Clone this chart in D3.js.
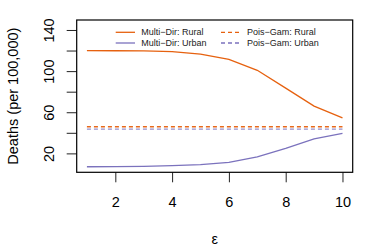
<!DOCTYPE html>
<html><head><meta charset="utf-8">
<script src="https://cdn.jsdelivr.net/npm/d3@7"></script>
<style>body{margin:0;background:#fff}svg{display:block;font-family:"Liberation Sans",Arial,sans-serif}</style>
</head><body><svg id="c" width="374" height="249"></svg>
<script>
const epsilon = [1,2,3,4,5,6,7,8,9,10];
const multiDirRural = [119.9,119.8,119.6,119.0,116.6,111.5,100.8,83.5,66.0,54.6];
const multiDirUrban = [7.0,7.1,7.4,8.0,9.0,11.2,16.7,24.9,34.2,39.5];
const poisGamRural = [45.9,45.9,45.9,45.9,45.9,45.9,45.9,45.9,45.9,45.9];
const poisGamUrban = [43.6,43.6,43.6,43.6,43.6,43.6,43.6,43.6,43.6,43.6];
const xTicks = [2,4,6,8,10];
const yTicks = [20,40,60,80,100,120,140];
const yTickLabels = [20,60,100,140];
const legendLabels = ["Multi\u2212Dir: Rural","Multi\u2212Dir: Urban","Pois\u2212Gam: Rural","Pois\u2212Gam: Urban"];

const colRural = "#E6610F", colUrban = "#7B72BD";
const L=76.7, R=352.7, T=20, B=172.3;
const svg = d3.select("#c");
const x = d3.scaleLinear().domain([0.64,10.36]).range([L,R]);
const y = d3.scaleLinear().domain([1.6,149.7]).range([B,T]);

// axes
const xa = svg.append("g").attr("transform",`translate(0,${B})`)
  .call(d3.axisBottom(x).tickValues(xTicks).tickSize(10).tickPadding(14).tickFormat(d3.format("d")));
xa.select(".domain").remove();
xa.selectAll("text").attr("font-size",14.5).attr("font-family","Liberation Sans, Arial, sans-serif").attr("fill","#000");
xa.selectAll("line").attr("stroke","#222").attr("stroke-width",1);

const ya = svg.append("g").attr("transform",`translate(${L},0)`)
  .call(d3.axisLeft(y).tickValues(yTicks).tickSize(10).tickFormat(d => yTickLabels.includes(d) ? d : ""));
ya.select(".domain").remove();
ya.selectAll("line").attr("stroke","#222").attr("stroke-width",1);
ya.selectAll("text").attr("font-size",14.5).attr("font-family","Liberation Sans, Arial, sans-serif").attr("fill","#000")
  .attr("text-anchor","middle").attr("dy",null).attr("x",null)
  .attr("transform","translate(-27.4,0) rotate(-90)").attr("dominant-baseline","central");

// lines
const line = d3.line().x((d,i)=>x(epsilon[i])).y(d=>y(d));
const series = [
  {v:poisGamRural,c:colRural,dash:"4,3",op:0.95},
  {v:poisGamUrban,c:colUrban,dash:"4,3",op:0.8},
  {v:multiDirRural,c:colRural,dash:null,op:1},
  {v:multiDirUrban,c:colUrban,dash:null,op:1}
];
series.forEach(s=>{
  svg.append("path").attr("d",line(s.v)).attr("fill","none").attr("stroke",s.c)
    .attr("stroke-width",1.3).attr("stroke-dasharray",s.dash).attr("opacity",s.op);
});

// box
svg.append("rect").attr("x",L).attr("y",T).attr("width",R-L).attr("height",B-T)
  .attr("fill","none").attr("stroke","#000").attr("stroke-width",1.2);

// legend
const leg = [
  {t:legendLabels[0],c:colRural,dash:null,x1:115.7,x2:135,tx:141.3,y:32.3},
  {t:legendLabels[1],c:colUrban,dash:null,x1:115.7,x2:135,tx:141.3,y:43},
  {t:legendLabels[2],c:colRural,dash:"4,3",x1:221,x2:240,tx:247,y:32.3},
  {t:legendLabels[3],c:colUrban,dash:"4,3",x1:221,x2:240,tx:247,y:43}
];
leg.forEach(l=>{
  svg.append("line").attr("x1",l.x1).attr("x2",l.x2).attr("y1",l.y).attr("y2",l.y)
    .attr("stroke",l.c).attr("stroke-width",1.3).attr("stroke-dasharray",l.dash);
  svg.append("text").attr("x",l.tx).attr("y",l.y).attr("dominant-baseline","central")
    .attr("font-size",9).attr("fill","#222").text(l.t);
});

// axis titles
svg.append("text").attr("x",(L+R)/2).attr("y",239).attr("text-anchor","middle")
  .attr("dominant-baseline","central").attr("font-size",14.5).text("\u03b5");
svg.append("text").attr("transform",`translate(13.4,${(T+B)/2}) rotate(-90)`).attr("text-anchor","middle")
  .attr("dominant-baseline","central").attr("font-size",14.5).text("Deaths (per 100,000)");
</script></body></html>
